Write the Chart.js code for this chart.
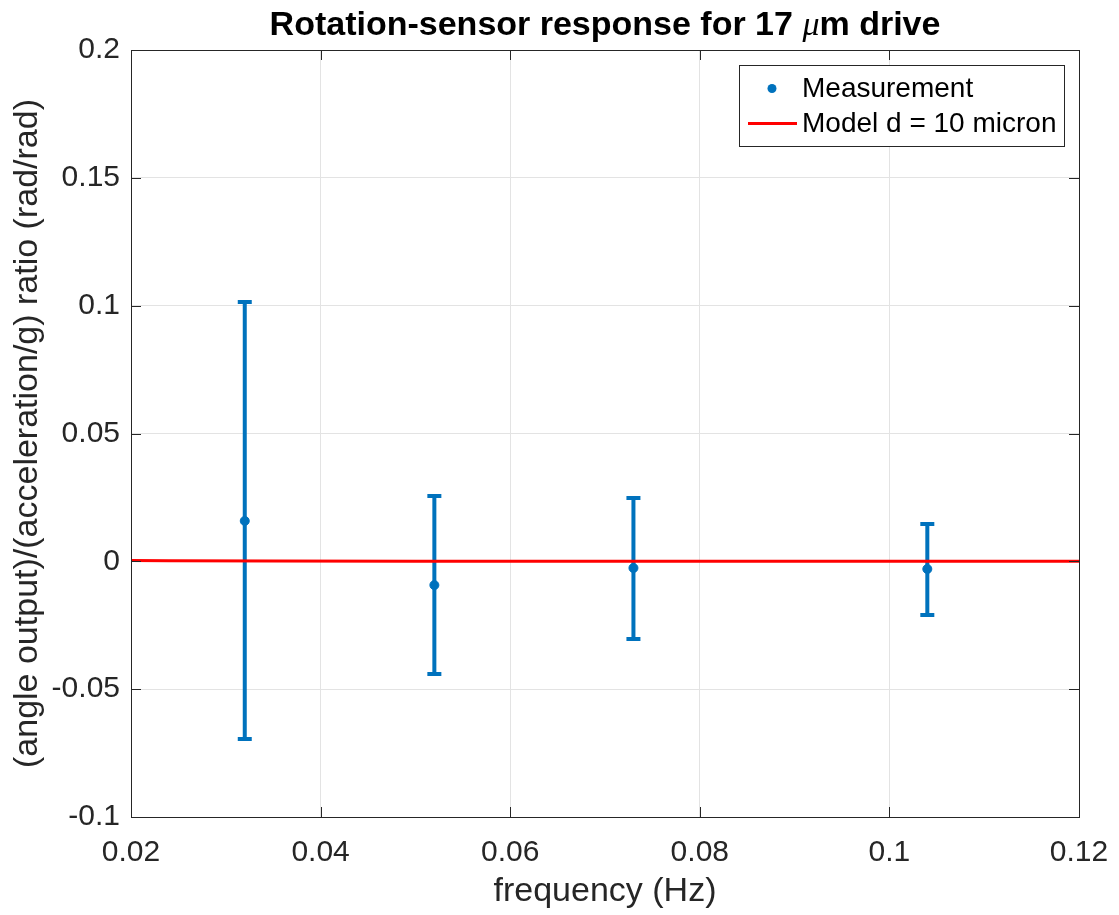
<!DOCTYPE html>
<html><head><meta charset="utf-8">
<script src="https://cdn.jsdelivr.net/npm/chart.js@4"></script>
<style>html,body{margin:0;padding:0;background:#fff}</style>
</head><body>
<canvas id="c" width="1119" height="915" style="display:block;width:1119px;height:915px"></canvas>
<script>
// ---- data ----
const freq      = [0.032, 0.052, 0.073, 0.104];
const ratio     = [0.0158, -0.0093, -0.0026, -0.0030];
const errHigh   = [0.1014, 0.0256, 0.0248, 0.0146];
const errLow    = [-0.0695, -0.0441, -0.0304, -0.0210];
const modelFreq  = [0.02, 0.024, 0.035, 0.05, 0.07, 0.09, 0.12];
const modelRatio = [0.0003, 0.0002, 0.0001, 0.0, 0.0, 0.0, 0.0];
const xTickVals   = [0.02, 0.04, 0.06, 0.08, 0.10, 0.12];
const xTickLabels = ['0.02', '0.04', '0.06', '0.08', '0.1', '0.12'];
const yTickVals   = [-0.1, -0.05, 0, 0.05, 0.1, 0.15, 0.2];
const yTickLabels = ['-0.1', '-0.05', '0', '0.05', '0.1', '0.15', '0.2'];
const seriesNames = ['Measurement', 'Model d = 10 micron'];
const titleParts = ['Rotation-sensor response for 17 ', '\u03BC', 'm drive'];
const xLabel = 'frequency (Hz)';
const yLabel = '(angle output)/(acceleration/g) ratio (rad/rad)';

const BLUE = '#0072BD', RED = '#FF0000', AX = '#262626', GRID = '#e3e3e3';
const FONT = "'Liberation Sans', Arial, sans-serif";
const SERIF = "'Liberation Serif', 'DejaVu Serif', serif";

const errorBars = {
  id: 'errorBars',
  beforeDatasetsDraw(chart) {
    const {ctx, scales: {x, y}} = chart;
    ctx.save();
    ctx.strokeStyle = BLUE;
    ctx.lineWidth = 4;
    ctx.lineCap = 'butt';
    for (let i = 0; i < freq.length; i++) {
      const px = x.getPixelForValue(freq[i]);
      const ph = y.getPixelForValue(errHigh[i]);
      const pl = y.getPixelForValue(errLow[i]);
      ctx.beginPath();
      ctx.moveTo(px, ph); ctx.lineTo(px, pl);
      ctx.moveTo(px - 7, ph); ctx.lineTo(px + 7, ph);
      ctx.moveTo(px - 7, pl); ctx.lineTo(px + 7, pl);
      ctx.stroke();
    }
    ctx.restore();
  }
};

const frame = {
  id: 'frame',
  afterDatasetsDraw(chart) {
    const {ctx, chartArea: a, scales: {x, y}} = chart;
    ctx.save();
    ctx.strokeStyle = AX;
    ctx.lineWidth = 1;
    const L = 10;
    ctx.beginPath();
    x.ticks.forEach(t => {
      const px = Math.round(x.getPixelForValue(t.value)) + 0.5;
      ctx.moveTo(px, a.bottom); ctx.lineTo(px, a.bottom - L);
      ctx.moveTo(px, a.top); ctx.lineTo(px, a.top + L);
    });
    y.ticks.forEach(t => {
      const py = Math.round(y.getPixelForValue(t.value)) + 0.5;
      ctx.moveTo(a.left, py); ctx.lineTo(a.left + L, py);
      ctx.moveTo(a.right, py); ctx.lineTo(a.right - L, py);
    });
    ctx.stroke();
    ctx.strokeRect(Math.round(a.left) + 0.5, Math.round(a.top) + 0.5,
                   Math.round(a.right - a.left), Math.round(a.bottom - a.top));
    ctx.restore();
  }
};

const titleDraw = {
  id: 'titleDraw',
  afterDraw(chart) {
    const {ctx, chartArea: a} = chart;
    ctx.save();
    const fonts = ['bold 34px ' + FONT, 'italic 34px ' + SERIF, 'bold 34px ' + FONT];
    let widths = titleParts.map((p, i) => { ctx.font = fonts[i]; return ctx.measureText(p).width; });
    const total = widths.reduce((s, w) => s + w, 0);
    let x0 = (a.left + a.right) / 2 - total / 2;
    ctx.fillStyle = '#000';
    ctx.textBaseline = 'alphabetic';
    ctx.textAlign = 'left';
    titleParts.forEach((p, i) => {
      ctx.font = fonts[i];
      ctx.fillText(p, x0, 35);
      x0 += widths[i];
    });
    ctx.restore();
  }
};

const legendBox = {
  id: 'legendBox',
  afterDraw(chart) {
    const {ctx} = chart;
    ctx.save();
    const bx = 739, by = 65, bw = 325, bh = 81;
    ctx.fillStyle = '#fff';
    ctx.fillRect(bx, by, bw, bh);
    ctx.strokeStyle = AX; ctx.lineWidth = 1;
    ctx.strokeRect(bx + 0.5, by + 0.5, bw, bh);
    ctx.font = '28px ' + FONT;
    ctx.textBaseline = 'middle';
    ctx.textAlign = 'left';
    ctx.beginPath(); ctx.fillStyle = BLUE;
    ctx.arc(772, 88.5, 4.5, 0, Math.PI * 2); ctx.fill();
    ctx.fillStyle = '#000';
    ctx.fillText(chart.data.datasets[0].label, 802, 89);
    ctx.strokeStyle = RED; ctx.lineWidth = 3;
    ctx.beginPath(); ctx.moveTo(748, 123.5); ctx.lineTo(797, 123.5); ctx.stroke();
    ctx.fillText(chart.data.datasets[1].label, 802, 124.5);
    ctx.restore();
  }
};

new Chart(document.getElementById('c'), {
  type: 'scatter',
  data: {
    datasets: [
      {
        label: seriesNames[0],
        data: freq.map((f, i) => ({x: f, y: ratio[i]})),
        backgroundColor: BLUE, borderColor: BLUE,
        pointRadius: 4.5, pointHoverRadius: 4.5, showLine: false, order: 1
      },
      {
        label: seriesNames[1],
        data: modelFreq.map((f, i) => ({x: f, y: modelRatio[i]})),
        borderColor: RED, backgroundColor: RED, borderWidth: 3,
        pointRadius: 0, showLine: true, order: 0
      }
    ]
  },
  options: {
    responsive: false,
    devicePixelRatio: 1,
    animation: false,
    events: [],
    layout: {padding: {left: 0, right: 40, top: 50, bottom: 0}},
    plugins: {
      legend: {display: false},
      tooltip: {enabled: false},
      title: {display: false}
    },
    scales: {
      x: {
        type: 'linear', min: 0.02, max: 0.12,
        afterBuildTicks: s => { s.ticks = xTickVals.map(v => ({value: v})); },
        afterFit: s => { s.height = 98; s.paddingLeft = 0; s.paddingRight = 0; },
        ticks: {
          callback: (v) => xTickLabels[xTickVals.findIndex(t => Math.abs(t - v) < 1e-9)],
          color: AX, font: {family: FONT, size: 30}, padding: 18, maxRotation: 0
        },
        grid: {color: GRID, drawTicks: false, tickLength: 0},
        border: {display: false},
        title: {display: true, text: xLabel, color: AX,
                font: {family: FONT, size: 34}, padding: {top: 0, bottom: 2.6}}
      },
      y: {
        type: 'linear', min: -0.1, max: 0.2,
        afterBuildTicks: s => { s.ticks = yTickVals.map(v => ({value: v})); },
        afterFit: s => { s.width = 131; s.paddingTop = 0; s.paddingBottom = 0; },
        ticks: {
          callback: (v) => yTickLabels[yTickVals.findIndex(t => Math.abs(t - v) < 1e-9)],
          color: AX, font: {family: FONT, size: 30}, padding: 11
        },
        grid: {color: GRID, drawTicks: false, tickLength: 0},
        border: {display: false},
        title: {display: true, text: yLabel, color: AX,
                font: {family: FONT, size: 34}, padding: {top: 7.6, bottom: 0}}
      }
    }
  },
  plugins: [errorBars, frame, titleDraw, legendBox]
});
</script>
</body></html>
